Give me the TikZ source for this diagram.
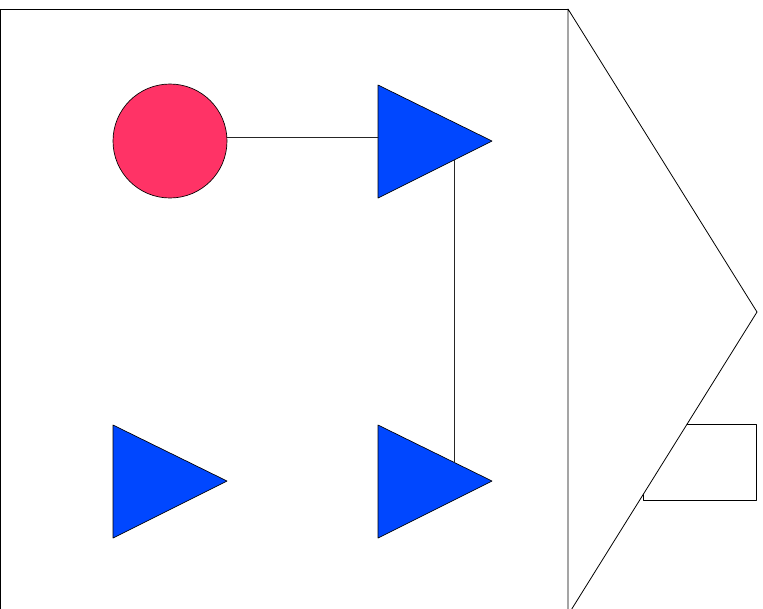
\documentclass[tikz,border=0pt]{standalone}
\usetikzlibrary{calc}
\definecolor{srcred}{HTML}{FF3366}
\definecolor{gateblue}{HTML}{0047FF}

\begin{document}
\begin{tikzpicture}[x=0.75pt, y=-0.75pt, line cap=round, line join=round,
		gate/.style={fill=gateblue, draw=black, line width=0.5pt},
		wire/.style={draw=black!85, line width=0.6pt}]
		\useasboundingbox (0,0) rectangle (763,608);
		
		% ===== Housing: box, side plate and nose =====
		\draw[line width=0.6pt] (0.5,9) rectangle (568,620);
		\draw[line width=0.6pt] (643,424) rectangle (756,500);
		\filldraw[fill=white, line width=0.6pt] (568,9) -- (757,312) -- (568,615) -- cycle;
		
		% ===== Source and gates =====
		\node[circle, fill=srcred, draw=black, line width=0.5pt, inner sep=0pt, minimum size=85.5pt] (src) at (170,141) {};
		\foreach \nm/\cx/\cy in {g1/378/85, g2/113/425, g3/378/425}
		\filldraw[gate] (\cx,\cy) coordinate (\nm-tl) -- ++(114,56) coordinate (\nm-tip) -- ++(-114,57) coordinate (\nm-bl) -- cycle;
		
		% ===== Wires =====
		\draw[wire] (src.4) -- (src.4 -| g1-tl);
		\draw[wire] ($(g1-tip)!0.333!(g1-bl)$) -- ($(g3-tl)!0.667!(g3-tip)$);
		
	\end{tikzpicture}
\end{document}
